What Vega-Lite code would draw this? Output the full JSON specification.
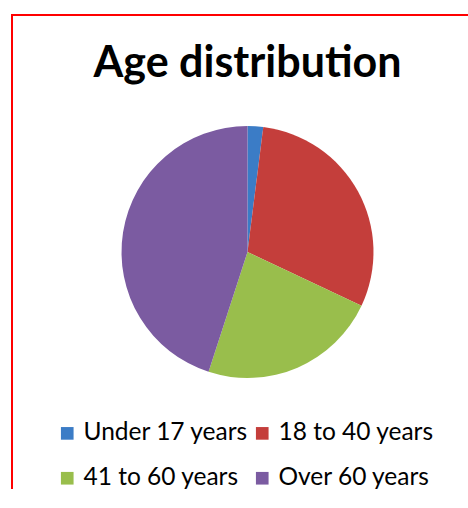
{
  "$schema": "https://vega.github.io/schema/vega-lite/v6.json",
  "width": 468,
  "height": 508,
  "autosize": {"type": "fit", "contains": "padding"},
  "padding": {"left": 12, "top": 15, "right": -15, "bottom": 19},
  "background": "white",
  "view": {"stroke": "#ff0000", "strokeWidth": 2, "fill": null, "strokeDash": [456, 960, 480]},
  "config": {
    "font": "Lato"
  },
  "title": {
    "text": "Age distribution",
    "font": "Lato",
    "fontSize": 43,
    "fontWeight": "bold",
    "color": "#000000",
    "anchor": "middle",
    "offset": -71
  },
  "data": {
    "values": [
      {"group": "Under 17 years", "share": 2, "idx": 1},
      {"group": "18 to 40 years", "share": 30, "idx": 2},
      {"group": "41 to 60 years", "share": 23, "idx": 3},
      {"group": "Over 60 years", "share": 45, "idx": 4}
    ]
  },
  "layer": [
    {
      "mark": {"type": "arc", "outerRadius": 126},
      "encoding": {
        "theta": {"field": "share", "type": "quantitative", "stack": true},
        "order": {"field": "idx", "type": "quantitative"},
        "color": {
          "field": "group",
          "type": "nominal",
          "scale": {
            "domain": ["Under 17 years", "18 to 40 years", "41 to 60 years", "Over 60 years"],
            "range": ["#3B7CC6", "#C43E3B", "#99BE4C", "#7B5BA1"]
          },
          "legend": {
            "title": null,
            "orient": "none",
            "legendX": 43,
            "legendY": 406,
            "direction": "horizontal",
            "columns": 2,
            "padding": 0,
            "symbolType": "square",
            "symbolSize": 160,
            "symbolStrokeWidth": 0,
            "symbolOpacity": 1,
            "labelFont": "Lato",
            "labelFontSize": 24.5,
            "labelLimit": 400,
            "labelColor": "#000000",
            "labelOffset": 4,
            "columnPadding": 1,
            "rowPadding": 20
          }
        }
      }
    }
  ]
}
